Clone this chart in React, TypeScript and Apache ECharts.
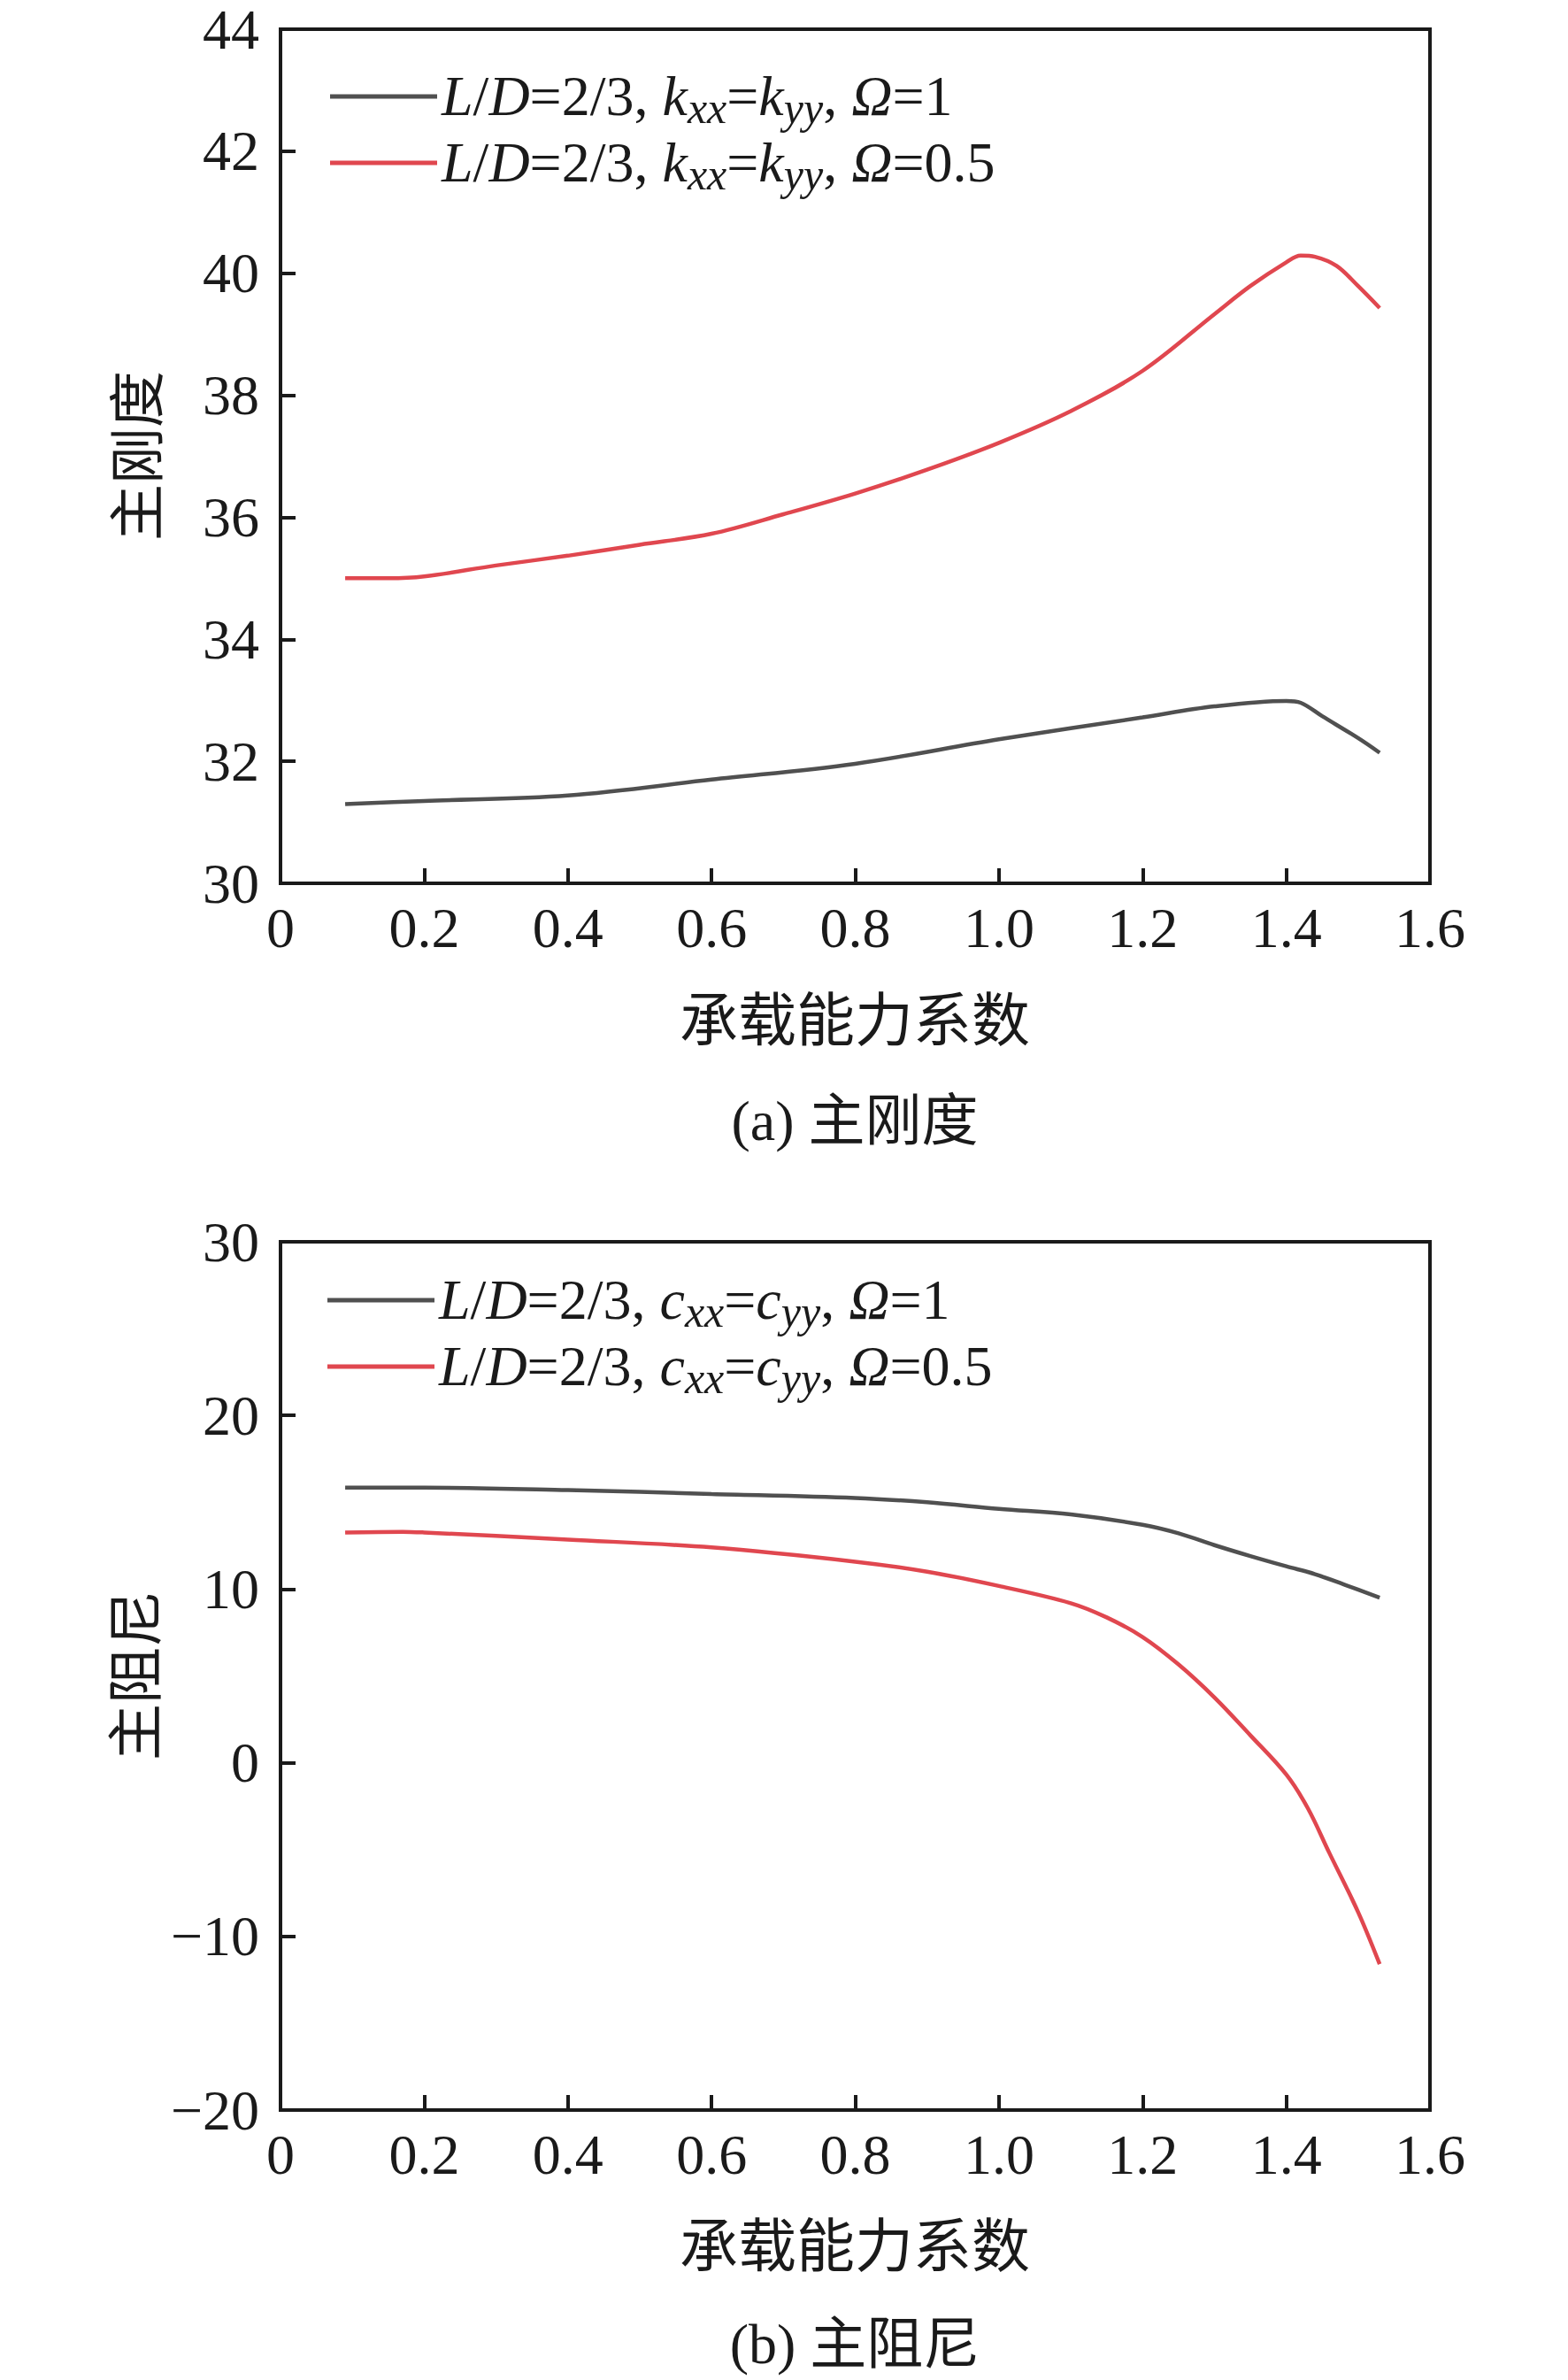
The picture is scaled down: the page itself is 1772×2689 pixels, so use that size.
import React, { useEffect, useRef } from "react";
import * as echarts from "echarts";

// ---- data ----
const stiffXOmega1 = [0.09, 0.2, 0.4, 0.6, 0.8, 1.0, 1.2, 1.3, 1.4, 1.42, 1.45, 1.5, 1.53];
const stiffYOmega1 = [31.3, 31.35, 31.44, 31.7, 31.96, 32.36, 32.72, 32.9, 32.99, 32.96, 32.74, 32.38, 32.14];

const stiffXOmega05 = [0.09, 0.15, 0.2, 0.3, 0.4, 0.5, 0.6, 0.7, 0.8, 0.9, 1.0, 1.1, 1.2, 1.3, 1.35, 1.4, 1.42, 1.44, 1.47, 1.5, 1.53];
const stiffYOmega05 = [35.0, 35.0, 35.03, 35.21, 35.37, 35.55, 35.73, 36.05, 36.39, 36.78, 37.22, 37.74, 38.4, 39.33, 39.79, 40.18, 40.29, 40.27, 40.12, 39.79, 39.43];

const dampXOmega1 = [0.09, 0.2, 0.4, 0.6, 0.8, 0.9, 1.0, 1.1, 1.2, 1.25, 1.3, 1.35, 1.4, 1.44, 1.48, 1.53];
const dampYOmega1 = [15.84, 15.84, 15.7, 15.48, 15.25, 15.0, 14.62, 14.3, 13.7, 13.21, 12.53, 11.9, 11.31, 10.86, 10.27, 9.5];

const dampXOmega05 = [0.09, 0.17, 0.2, 0.4, 0.6, 0.8, 0.9, 1.0, 1.1, 1.15, 1.2, 1.25, 1.3, 1.35, 1.4, 1.43, 1.46, 1.5, 1.53];
const dampYOmega05 = [13.26, 13.3, 13.26, 12.85, 12.4, 11.58, 11.0, 10.18, 9.19, 8.37, 7.24, 5.66, 3.76, 1.58, -0.68, -2.62, -5.2, -8.6, -11.6];

const xTickMin = 0;
const xTickMax = 1.6;
const xTickStep = 0.2;
const stiffTickMin = 30;
const stiffTickMax = 44;
const stiffTickStep = 2;
const dampTickMin = -20;
const dampTickMax = 30;
const dampTickStep = 10;

const xAxisTitle = "承载能力系数";
const stiffAxisTitle = "主刚度";
const dampAxisTitle = "主阻尼";
const captionA = "(a) 主刚度";
const captionB = "(b) 主阻尼";

const zip = (xs: number[], ys: number[]) => xs.map((x, i) => [x, ys[i]]);

const GRAY = "#505050";
const RED = "#E0474F";
const AXIS = "#1a1a1a";
const SERIF = "'Liberation Serif', 'Times New Roman', 'Noto Sans CJK SC', serif";

const richStyles = {
  i: { fontFamily: SERIF, fontStyle: "italic", fontSize: 64, lineHeight: 76, color: "#1a1a1a" },
  n: { fontFamily: SERIF, fontSize: 64, lineHeight: 76, color: "#1a1a1a" },
  s: { fontFamily: SERIF, fontStyle: "italic", fontSize: 50, lineHeight: 46, verticalAlign: "bottom", color: "#1a1a1a" },
};

const legendText = (sym: string, omega: string) =>
  `{i|L}{n|/}{i|D}{n|=2/3, }{i|${sym}}{s|xx}{n|=}{i|${sym}}{s|yy}{n|, }{i|Ω}{n|=${omega}}`;

const legendLabels: Record<string, string> = {
  k1: legendText("k", "1"),
  k05: legendText("k", "0.5"),
  c1: legendText("c", "1"),
  c05: legendText("c", "0.5"),
};

export default function App() {
  const ref = useRef<HTMLDivElement>(null);
  useEffect(() => {
    if (!ref.current) return;
    const chart = echarts.init(ref.current, null, { renderer: "svg" });

    const xAxisBase = (gridIndex: number) => ({
      type: "value",
      gridIndex,
      min: xTickMin,
      max: xTickMax,
      interval: xTickStep,
      axisLine: { show: false, onZero: false },
      axisTick: { show: true, inside: true, length: 17, lineStyle: { color: AXIS, width: 4 } },
      splitLine: { show: false },
      axisLabel: {
        margin: 18,
        fontFamily: SERIF,
        fontSize: 64,
        color: "#1a1a1a",
        formatter: (v: number) => (v === 0 ? "0" : v.toFixed(1)),
      },
    });
    const yAxisBase = (gridIndex: number, min: number, max: number, interval: number) => ({
      type: "value",
      gridIndex,
      min,
      max,
      interval,
      axisLine: { show: false, onZero: false },
      axisTick: { show: true, inside: true, length: 17, lineStyle: { color: AXIS, width: 4 } },
      splitLine: { show: false },
      axisLabel: {
        margin: 24,
        fontFamily: SERIF,
        fontSize: 64,
        color: "#1a1a1a",
        formatter: (v: number) => String(v).replace("-", "\u2212"),
      },
    });

    const lineSeries = (name: string, xi: number, data: number[][], color: string) => ({
      name,
      type: "line",
      xAxisIndex: xi,
      yAxisIndex: xi,
      data,
      showSymbol: false,
      symbol: "none",
      smooth: 0.35,
      lineStyle: { color, width: 4.5 },
      itemStyle: { color },
    });

    const legendBase = (data: string[], left: number, top: number) => ({
      data,
      orient: "vertical",
      left,
      top,
      padding: 0,
      itemGap: 5,
      itemWidth: 121,
      itemHeight: 5,
      icon: "rect",
      formatter: (name: string) => legendLabels[name],
      textStyle: { rich: richStyles },
      selectedMode: false,
    });

    chart.setOption({
      animation: false,
      backgroundColor: "#ffffff",
      grid: [
        { left: 317, top: 33, width: 1299, height: 965, show: true, borderColor: AXIS, borderWidth: 4, backgroundColor: "transparent" },
        { left: 317, top: 1403, width: 1299, height: 981, show: true, borderColor: AXIS, borderWidth: 4, backgroundColor: "transparent" },
      ],
      xAxis: [xAxisBase(0), xAxisBase(1)],
      yAxis: [
        yAxisBase(0, stiffTickMin, stiffTickMax, stiffTickStep),
        yAxisBase(1, dampTickMin, dampTickMax, dampTickStep),
      ],
      legend: [legendBase(["k1", "k05"], 373, 77), legendBase(["c1", "c05"], 370, 1437)],
      series: [
        lineSeries("k1", 0, zip(stiffXOmega1, stiffYOmega1), GRAY),
        lineSeries("k05", 0, zip(stiffXOmega05, stiffYOmega05), RED),
        lineSeries("c1", 1, zip(dampXOmega1, dampYOmega1), GRAY),
        lineSeries("c05", 1, zip(dampXOmega05, dampYOmega05), RED),
      ],
      graphic: [
        { type: "text", x: 966, y: 1153, style: { text: xAxisTitle, font: `66px ${SERIF}`, fill: "#1a1a1a", align: "center", verticalAlign: "middle" } },
        { type: "text", x: 966, y: 1266, style: { text: captionA, font: `64px ${SERIF}`, fill: "#1a1a1a", align: "center", verticalAlign: "middle" } },
        { type: "text", x: 156, y: 515, rotation: Math.PI / 2, style: { text: stiffAxisTitle, font: `64px ${SERIF}`, fill: "#1a1a1a", align: "center", verticalAlign: "middle" } },
        { type: "text", x: 966, y: 2538, style: { text: xAxisTitle, font: `66px ${SERIF}`, fill: "#1a1a1a", align: "center", verticalAlign: "middle" } },
        { type: "text", x: 966, y: 2648, style: { text: captionB, font: `64px ${SERIF}`, fill: "#1a1a1a", align: "center", verticalAlign: "middle" } },
        { type: "text", x: 154, y: 1893, rotation: Math.PI / 2, style: { text: dampAxisTitle, font: `64px ${SERIF}`, fill: "#1a1a1a", align: "center", verticalAlign: "middle" } },
      ],
    });
    return () => chart.dispose();
  }, []);
  return (
    <div
      ref={ref}
      style={{ position: "absolute", left: 0, top: 0, width: 1772, height: 2689, background: "#fff" }}
    />
  );
}
